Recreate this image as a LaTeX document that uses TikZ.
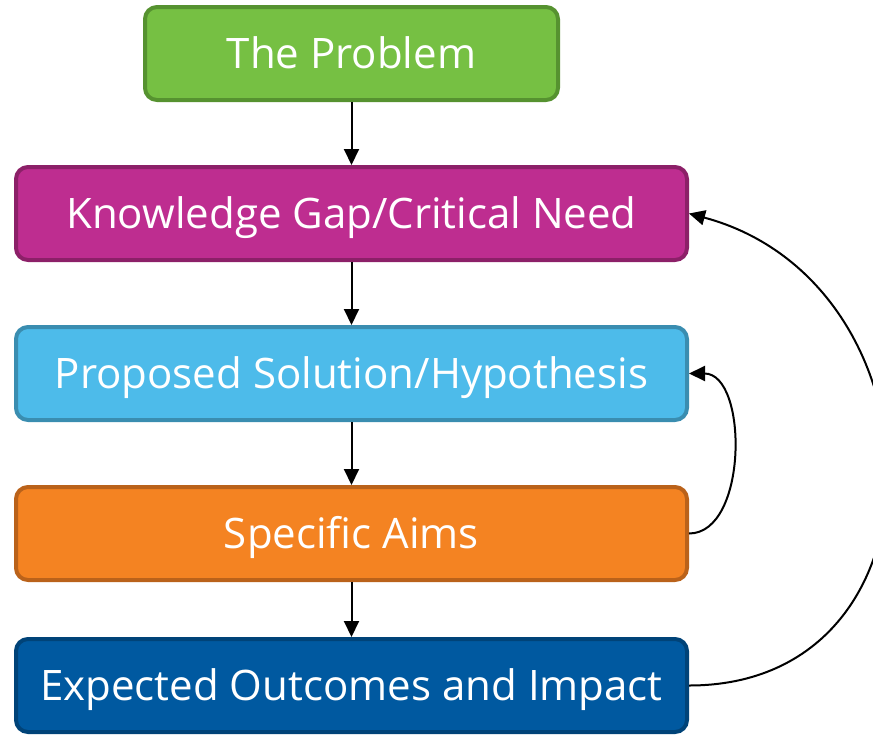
\documentclass[tikz,border=0pt]{standalone}
\usepackage{fontspec}
\setmainfont{Open Sans}
\usetikzlibrary{positioning,arrows.meta}

\definecolor{probfill}{RGB}{118,192,67}
\definecolor{probline}{RGB}{86,146,48}
\definecolor{gapfill}{RGB}{190,45,144}
\definecolor{gapline}{RGB}{140,32,104}
\definecolor{solfill}{RGB}{77,187,234}
\definecolor{solline}{RGB}{58,141,176}
\definecolor{aimfill}{RGB}{244,131,34}
\definecolor{aimline}{RGB}{186,98,26}
\definecolor{outfill}{RGB}{0,89,160}
\definecolor{outline}{RGB}{0,67,120}

\begin{document}
\begin{tikzpicture}[x=1pt, y=-1pt,
  stage/.style={rectangle, rounded corners=12pt, line width=4pt, text=white,
    minimum width=671pt, minimum height=93pt, inner sep=0pt,
    text height=30pt, text depth=0pt,
    font=\fontsize{42}{50}\selectfont},
  flow/.style={-{Triangle[length=16pt,width=15pt]}, line width=2pt}]
\useasboundingbox (0,0) rectangle (873,734);

\node[stage, fill=probfill, draw=probline, minimum width=413pt] (problem) at (351.5, 53.5) {The Problem};
\node[stage, fill=gapfill, draw=gapline] (gap) at (351.5, 213.5) {Knowledge Gap/Critical Need};
\node[stage, fill=solfill, draw=solline] (solution) at (351.5, 373.5) {Proposed Solution/Hypothesis};
\node[stage, fill=aimfill, draw=aimline] (aims) at (351.5, 533.5) {Specific Aims};
\node[stage, fill=outfill, draw=outline] (outcomes) at (351.5, 685.5) {Expected Outcomes and Impact};

\draw[flow] (problem) -- (gap);
\draw[flow] (gap) -- (solution);
\draw[flow] (solution) -- (aims);
\draw[flow] (aims) -- (outcomes);

\draw[flow] (aims.east) to[out=0, in=0, looseness=0.95] (solution.east);
\draw[flow] (outcomes.east) to[out=0, in=-15, looseness=1.45] (gap.east);

\end{tikzpicture}
\end{document}
